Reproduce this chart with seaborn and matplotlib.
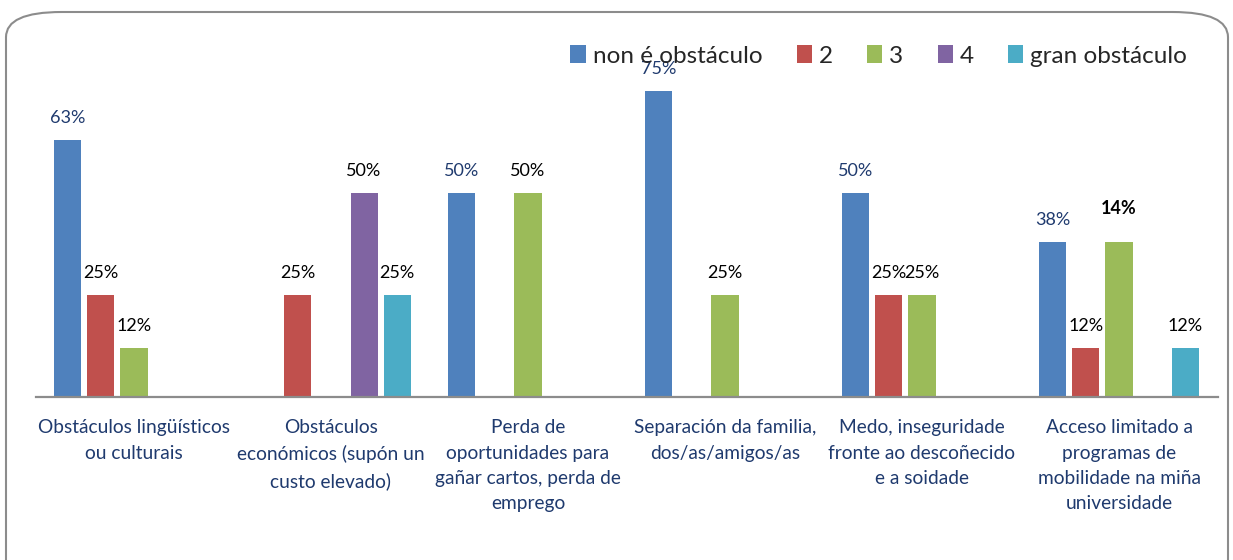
import pandas as pd
import matplotlib
matplotlib.use("Agg")
import matplotlib.pyplot as plt
from matplotlib.patches import FancyBboxPatch
import seaborn as sns

categories = [
    "Obstáculos lingüísticos\nou culturais",
    "Obstáculos\neconómicos (supón un\ncusto elevado)",
    "Perda de\noportunidades para\ngañar cartos, perda de\nemprego",
    "Separación da familia,\ndos/as/amigos/as",
    "Medo, inseguridade\nfronte ao descoñecido\ne a soidade",
    "Acceso limitado a\nprogramas de\nmobilidade na miña\nuniversidade",
]
series_names = ["non é obstáculo", "2", "3", "4", "gran obstáculo"]
non_obstaculo = [63, 0, 50, 75, 50, 38]
nivel_2 = [25, 25, 0, 0, 25, 12]
nivel_3 = [12, 0, 50, 25, 25, 38]
nivel_4 = [0, 50, 0, 0, 0, 0]
gran_obstaculo = [0, 25, 0, 0, 0, 12]
# the source chart prints "14%" above the last green bar
label_override = {("3", 5): "14%"}

colors = ["#4F81BD", "#C0504D", "#9BBB59", "#8064A2", "#4BACC6"]
navy = "#1F3A6E"

rows = []
for name, vals in zip(series_names, [non_obstaculo, nivel_2, nivel_3, nivel_4, gran_obstaculo]):
    for cat, v in zip(categories, vals):
        rows.append({"cat": cat, "serie": name, "pct": v})
df = pd.DataFrame(rows)

sns.set_style("white")
plt.rcParams["font.family"] = ["Lato", "DejaVu Sans"]

fig = plt.figure(figsize=(12.33, 5.6), dpi=100)
ax = fig.add_axes([35.5 / 1233, 163 / 560, 1182 / 1233, 0.583])

sns.barplot(data=df, x="cat", y="pct", hue="serie", order=categories,
            hue_order=series_names, palette=colors, width=0.84, gap=0.18,
            linewidth=0, saturation=1, ax=ax)

ax.set_ylim(0, 80)
ax.set_xlim(-0.5, 5.5)
ax.set_xlabel("")
ax.set_ylabel("")
ax.set_yticks([])
sns.despine(ax=ax, left=True, right=True, top=True)
ax.spines["bottom"].set_color("#8C8C8C")
ax.spines["bottom"].set_linewidth(1.6)
ax.tick_params(axis="x", length=0, pad=16, labelsize=13.8, labelcolor=navy)
for lbl in ax.get_xticklabels():
    lbl.set_linespacing(1.6)

for name, cont in zip(series_names, ax.containers):
    for i, bar in enumerate(cont.patches):
        h = bar.get_height()
        if h <= 0:
            continue
        txt = label_override.get((name, i), f"{h:.0f}%")
        extra = 8 if (name, i) in label_override else 0
        ax.annotate(txt, (bar.get_x() + bar.get_width() / 2, h),
                    xytext=(0, 10 + extra), textcoords="offset points",
                    ha="center", va="bottom", fontsize=13,
                    color=navy if name == series_names[0] else "black",
                    fontweight="bold" if (name, i) in label_override else "normal")

leg = ax.legend(loc="center right", bbox_to_anchor=(1197 / 1233, 1 - 56 / 560),
                bbox_transform=fig.transFigure, ncol=5, frameon=False,
                fontsize=17.5, handlelength=0.62, handleheight=0.75,
                handletextpad=0.3, columnspacing=1.4, borderaxespad=0)
leg.set_zorder(5)

border = FancyBboxPatch((6 / 1233, -0.1), 1222 / 1233, 1.1 - 12 / 560,
                        boxstyle="round,pad=0,rounding_size=0.045",
                        transform=fig.transFigure, fill=False,
                        edgecolor="#8C8C8C", linewidth=1.5,
                        mutation_aspect=560 / 1233 * 2.2)
fig.patches.append(border)

fig.savefig("out.png", dpi=100)
